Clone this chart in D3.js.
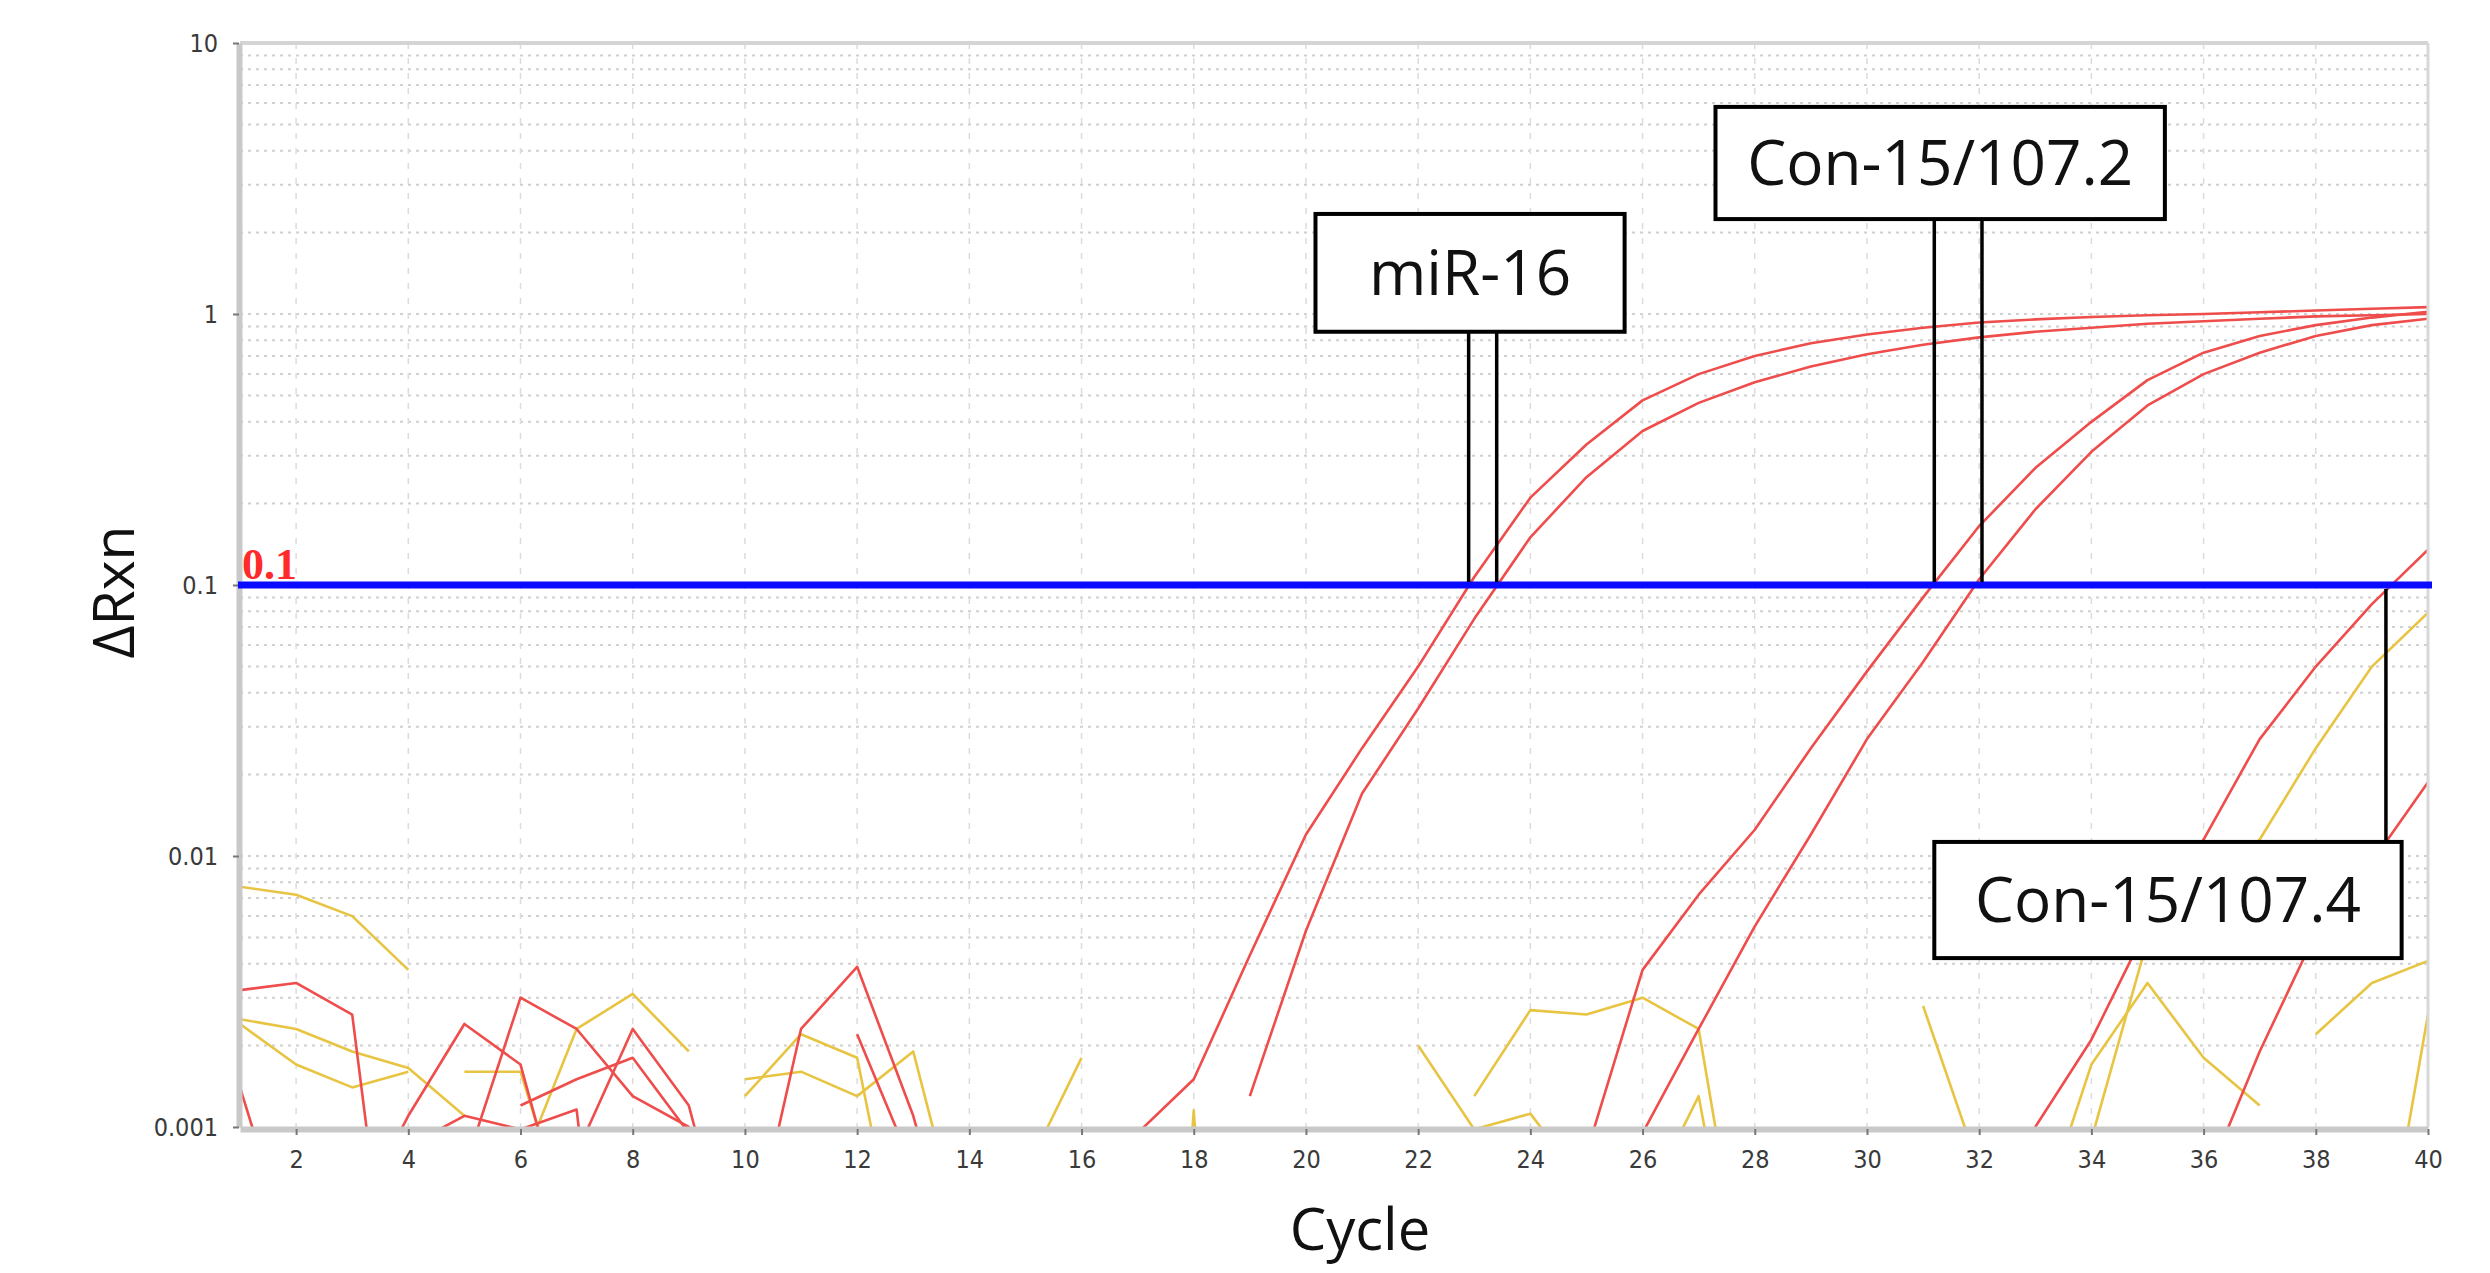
<!DOCTYPE html>
<html>
<head>
<meta charset="utf-8">
<script src="https://cdn.jsdelivr.net/npm/d3@7"></script>
<style>
  html, body { margin: 0; padding: 0; background: #fff; }
  svg { display: block; }
  .axis text { font-family: "Liberation Sans Narrow", "DejaVu Sans Condensed", "Liberation Sans", sans-serif; font-size: 25px; fill: #3a3a3a; }
  .axis-title { font-family: "Open Sans", "Noto Sans", sans-serif; fill: #111; }
  .callout text { font-family: "Open Sans", "Noto Sans", sans-serif; font-size: 62px; fill: #111; }
</style>
</head>
<body>
<svg id="chart"></svg>
<script>
// qPCR amplification plot, dRn on a log axis vs cycle number
const cycleTicks = d3.range(2, 41, 2);
const yTicks = [0.001, 0.01, 0.1, 1, 10];
const yTickLabels = ["0.001", "0.01", "0.1", "1", "10"];
const threshold = 0.1;

// amplifying wells, [cycle, dRn]
const mir16a = [[17,0.00095],[18,0.0015],[19,0.0043],[20,0.012],[21,0.025],[22,0.05],[23,0.107],[24,0.21],[25,0.33],[26,0.48],[27,0.6],[28,0.7],[29,0.78],[30,0.84],[31,0.89],[32,0.93],[33,0.955],[34,0.975],[35,0.99],[36,1.0],[37,1.015],[38,1.03],[39,1.045],[40,1.06]];
const mir16b = [[19,0.0013],[20,0.0053],[21,0.017],[22,0.035],[23,0.075],[24,0.15],[25,0.25],[26,0.37],[27,0.47],[28,0.56],[29,0.64],[30,0.71],[31,0.77],[32,0.82],[33,0.86],[34,0.89],[35,0.92],[36,0.94],[37,0.96],[38,0.98],[39,0.99],[40,1.0]];
const con2a = [[25,0.0008],[26,0.0038],[27,0.0072],[28,0.0125],[29,0.025],[30,0.048],[31,0.09],[32,0.165],[33,0.27],[34,0.40],[35,0.57],[36,0.72],[37,0.83],[38,0.91],[39,0.97],[40,1.02]];
const con2b = [[26,0.00095],[27,0.0023],[28,0.0055],[29,0.012],[30,0.027],[31,0.052],[32,0.105],[33,0.19],[34,0.31],[35,0.46],[36,0.6],[37,0.72],[38,0.83],[39,0.91],[40,0.96]];
const con4a = [[32,0.0004],[33,0.001],[34,0.0021],[35,0.0055],[36,0.0115],[37,0.027],[38,0.05],[39,0.085],[40,0.135]];
const con4b = [[36,0.0006],[37,0.0019],[38,0.0052],[39,0.0095],[40,0.0187]];

// baseline noise of the red wells
const redNoise = [
  [[1,0.0032],[2,0.0034],[3,0.0026],[4,0.00006]],
  [[1,0.0014],[2,0.0003]],
  [[3,0.00044],[4,0.0011],[5,0.0024],[6,0.0017],[7,0.0003]],
  [[5,0.0007],[6,0.003],[7,0.0023],[8,0.0013],[9,0.001],[10,0.0003]],
  [[7,0.0008],[8,0.0023],[9,0.0012],[10,0.0002]],
  [[6,0.0012],[7,0.0015],[8,0.0018],[9,0.00095]],
  [[4,0.00085],[5,0.0011],[6,0.00098],[7,0.00116],[8,0.00002]],
  [[10,0.00028],[11,0.0023],[12,0.0039],[13,0.0011],[14,0.0002]],
  [[12,0.0022],[13,0.0007]]
];

// non-amplifying (yellow) wells
const yellowNoise = [
  [[1,0.0077],[2,0.0072],[3,0.006],[4,0.0038]],
  [[1,0.0025],[2,0.0023],[3,0.0019],[4,0.00165],[5,0.0011]],
  [[1,0.0024],[2,0.0017],[3,0.0014],[4,0.0016]],
  [[5,0.0016],[6,0.0016],[7,0.00034]],
  [[6,0.0007],[7,0.0023],[8,0.0031],[9,0.0019]],
  [[10,0.0013],[11,0.0022],[12,0.0018],[13,0.00017]],
  [[10,0.0015],[11,0.0016],[12,0.0013],[13,0.0019],[14,0.0003]],
  [[15,0.00068],[16,0.0018]],
  [[17,0.000001],[18,0.00115],[19,0.000001]],
  [[22,0.002],[23,0.00098],[24,0.00112],[25,0.0006]],
  [[23,0.0013],[24,0.0027],[25,0.0026],[26,0.003],[27,0.0023],[28,0.00014]],
  [[26,0.0005],[27,0.0013],[28,0.0001]],
  [[31,0.0028],[32,0.0007]],
  [[33,0.0004],[34,0.0017],[35,0.0034],[36,0.0018],[37,0.0012]],
  [[34,0.0009],[35,0.0049],[36,0.0075],[37,0.0115],[38,0.025],[39,0.05],[40,0.079]],
  [[38,0.0022],[39,0.0034],[40,0.0041]],
  [[39,0.00017],[40,0.0026]]
];

const calloutLabels = ["miR-16", "Con-15/107.2", "Con-15/107.4"];
const calloutCt = [[22.9, 23.4], [31.2, 32.05], [39.25]];

// ---- layout ----
const width = 2490, height = 1273;
const plot = {left: 240, right: 2428, top: 43, bottom: 1127};

// callout boxes placed in data units (cycle, dRn)
const calloutBoxes = [
  {c0: 20.17, c1: 25.68, v0: 2.34, v1: 0.86, below: false},
  {c0: 27.3, c1: 35.31, v0: 5.81, v1: 2.24, below: false},
  {c0: 31.2, c1: 39.53, v0: 0.01127, v1: 0.0042, below: true}
];

const x = d3.scaleLinear().domain([1, 40]).range([plot.left, plot.right]);
const y = d3.scaleLog().domain([0.001, 10]).range([plot.bottom, plot.top]);

const svg = d3.select("#chart")
    .attr("width", width)
    .attr("height", height);

svg.append("rect").attr("width", width).attr("height", height).attr("fill", "#fff");

svg.append("defs").append("clipPath").attr("id", "plot-clip")
  .append("rect")
    .attr("x", plot.left).attr("y", plot.top)
    .attr("width", plot.right - plot.left).attr("height", plot.bottom - plot.top);

// grid
const grid = svg.append("g").attr("class", "grid");
const logGrid = [];
for (let e = -3; e < 1; e++) {
    for (let k = 1; k < 10; k++) logGrid.push(k * Math.pow(10, e));
}
grid.selectAll(".hgrid")
    .data(logGrid.filter(d => d > 0.001))
    .enter().append("line")
    .attr("x1", plot.left).attr("x2", plot.right)
    .attr("y1", d => y(d)).attr("y2", d => y(d))
    .attr("stroke", "#d0d0d0")
    .attr("stroke-width", 2)
    .attr("stroke-dasharray", "3,5");
grid.selectAll(".vgrid")
    .data(cycleTicks.filter(d => d < 40))
    .enter().append("line")
    .attr("x1", d => x(d)).attr("x2", d => x(d))
    .attr("y1", plot.top).attr("y2", plot.bottom)
    .attr("stroke", "#dcdcdc")
    .attr("stroke-width", 1.5)
    .attr("stroke-dasharray", "6,9");

// traces
const line = d3.line()
    .x(d => x(d[0]))
    .y(d => y(d[1]));

const traces = svg.append("g").attr("clip-path", "url(#plot-clip)");

traces.selectAll(".yellow")
    .data(yellowNoise)
    .enter().append("path")
    .attr("class", "yellow")
    .attr("d", line)
    .attr("fill", "none")
    .attr("stroke", "#e8c443")
    .attr("stroke-width", 2.6)
    .attr("stroke-linejoin", "round");

traces.selectAll(".red")
    .data(redNoise.concat([mir16a, mir16b, con2a, con2b, con4a, con4b]))
    .enter().append("path")
    .attr("class", "red")
    .attr("d", line)
    .attr("fill", "none")
    .attr("stroke", "#ef4c4c")
    .attr("stroke-width", 2.6)
    .attr("stroke-linejoin", "round");

// frame
const frame = svg.append("g");
frame.append("line")
    .attr("x1", plot.left).attr("x2", plot.right)
    .attr("y1", plot.top).attr("y2", plot.top)
    .attr("stroke", "#d4d4d4").attr("stroke-width", 4);
frame.append("line")
    .attr("x1", plot.right).attr("x2", plot.right)
    .attr("y1", plot.top).attr("y2", plot.bottom)
    .attr("stroke", "#d8d8d8").attr("stroke-width", 3);

// axes
svg.append("g")
    .attr("class", "axis")
    .attr("transform", "translate(0," + (plot.bottom + 2) + ")")
    .call(d3.axisBottom(x).tickValues(cycleTicks).tickSize(6).tickPadding(15).tickSizeOuter(0));
svg.append("g")
    .attr("class", "axis")
    .attr("transform", "translate(" + (plot.left - 1) + ",0)")
    .call(d3.axisLeft(y).tickValues(yTicks)
        .tickFormat((d, i) => yTickLabels[i])
        .tickSize(6).tickPadding(15).tickSizeOuter(0));

svg.selectAll(".axis .domain")
    .attr("stroke", "#c9c9c9")
    .attr("stroke-width", 6);
svg.selectAll(".axis .tick line")
    .attr("stroke", "#777")
    .attr("stroke-width", 2);

// threshold
svg.append("line")
    .attr("x1", plot.left - 2).attr("x2", plot.right + 4)
    .attr("y1", y(threshold)).attr("y2", y(threshold))
    .attr("stroke", "#0a0aff")
    .attr("stroke-width", 7);
svg.append("text")
    .attr("x", plot.left + 2)
    .attr("y", y(threshold) - 6)
    .attr("font-family", "'Liberation Serif', 'DejaVu Serif', serif")
    .attr("font-weight", "bold")
    .attr("font-size", 44)
    .attr("fill", "#ff2a2a")
    .text(String(threshold));

// axis titles
svg.append("text")
    .attr("class", "axis-title")
    .attr("x", 1360)
    .attr("y", 1250)
    .attr("text-anchor", "middle")
    .attr("font-size", 58)
    .text("Cycle");
svg.append("text")
    .attr("class", "axis-title")
    .attr("transform", "translate(134,592) rotate(-90)")
    .attr("text-anchor", "middle")
    .attr("font-size", 57)
    .text("\u0394Rxn");

// callouts
const callouts = svg.selectAll(".callout")
    .data(calloutLabels.map((label, i) => ({label: label, ct: calloutCt[i], box: calloutBoxes[i]})))
    .enter().append("g")
    .attr("class", "callout");

callouts.each(function (d) {
    const g = d3.select(this);
    const b = d.box;
    const bx0 = x(b.c0), bx1 = x(b.c1), by0 = y(b.v0), by1 = y(b.v1);
    g.selectAll("line")
        .data(d.ct)
        .enter().append("line")
        .attr("x1", c => x(c)).attr("x2", c => x(c))
        .attr("y1", b.below ? y(threshold) + 4 : by1)
        .attr("y2", b.below ? by0 : y(threshold) - 3)
        .attr("stroke", "#000")
        .attr("stroke-width", 3.5);
    g.append("rect")
        .attr("x", bx0).attr("y", by0)
        .attr("width", bx1 - bx0).attr("height", by1 - by0)
        .attr("fill", "#fff")
        .attr("stroke", "#000")
        .attr("stroke-width", 4);
    g.append("text")
        .attr("x", (bx0 + bx1) / 2)
        .attr("y", (by0 + by1) / 2 + 22)
        .attr("text-anchor", "middle")
        .attr("font-size", d.label === "miR-16" ? 60 : 62)
        .text(d.label);
});
</script>
</body>
</html>
